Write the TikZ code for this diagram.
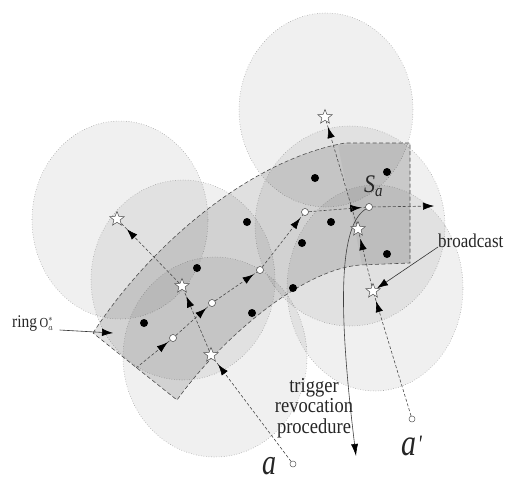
\documentclass[tikz,border=0pt]{standalone}
\usepackage{graphicx}
\usepackage{fontspec}
\setmainfont{Liberation Serif}
\usetikzlibrary{shapes.geometric,arrows.meta,decorations.markings}
\pgfdeclarelayer{bg}
\pgfsetlayers{bg,main}
\begin{document}
\begin{tikzpicture}[x=1pt,y=-1pt,
 zone/.style={draw=black!40, dotted, line width=0.55pt, fill=black, fill opacity=0.058},
 ringarea/.style={fill=black, fill opacity=0.12},
 cellarea/.style={fill=black, fill opacity=0.04},
 ringedge/.style={draw=black!70, dash pattern=on 4pt off 2.5pt, line width=0.6pt},
 hop/.style={draw=black!70, dash pattern=on 3pt off 2pt, line width=0.6pt},
 sensor/.style={circle, fill=black, inner sep=0pt, minimum size=8pt},
 relay/.style={circle, draw=black!75, fill=white, inner sep=0pt, minimum size=7pt, line width=0.5pt},
 agent/.style={star, star points=5, star point ratio=2.3, draw=black!70, fill=white, inner sep=0pt, minimum size=15pt, line width=0.5pt},
 origin/.style={circle, draw=black!65, fill=white, inner sep=0pt, minimum size=6pt, line width=0.5pt},
 tipat/.style={postaction={decorate, decoration={markings, mark=at position #1 with {\arrow{Latex[length=11pt,width=7.5pt,color=black]}}}}},
 pointer/.style={draw=black!80, line width=0.6pt, -{Latex[length=11pt,width=7.5pt,color=black]}},
 txt/.style={inner sep=0pt, text=black!85}
]
\useasboundingbox (0,0) rectangle (506,482);

% sensors (black)
\node[sensor] (b1) at (144,323) {};
\node[sensor] (b2) at (197,268) {};
\node[sensor] (b3) at (247,222) {};
\node[sensor] (b4) at (252,313) {};
\node[sensor] (b5) at (293,288) {};
\node[sensor] (b6) at (315,178) {};
\node[sensor] (b7) at (387,172) {};
\node[sensor] (b8) at (331,222) {};
\node[sensor] (b9) at (302,243) {};
\node[sensor] (b10) at (387,254) {};

% relays (white)
\node[relay] (w1) at (173,338) {};
\node[relay] (w2) at (212,303) {};
\node[relay] (w3) at (260,270) {};
\node[relay] (w4) at (305,212) {};
\node[relay] (w5) at (369,207) {};

% stars
\node[agent] (s1) at (117,219) {};
\node[agent] (s2) at (182,286) {};
\node[agent] (s3) at (211,355) {};
\node[agent] (s4) at (325,117) {};
\node[agent] (s5) at (358,229) {};
\node[agent] (s6) at (373,291) {};

% origins
\node[origin] (oa) at (293,464) {};
\node[origin] (ob) at (412,419) {};

\coordinate (r0) at (136,368);
\coordinate (rend) at (434,206);
\coordinate (ringtip) at (113,333);
\coordinate (trigend) at (356,456);

% labels
\node[txt, anchor=base west] (bc) at (438,247) {\scalebox{1}[1.15]{\fontsize{17}{19}\selectfont broadcast}};
\node[txt] (trg) at (314,409) {\scalebox{1}[1.15]{\fontsize{18.5}{17}\selectfont\begin{tabular}{@{}c@{}}trigger\\ revocation\\ procedure\end{tabular}}};
\node[txt, anchor=base west] (sa) at (364,192) {\scalebox{1}[1.15]{\fontsize{22}{22}\selectfont\itshape S\raisebox{-3.5pt}{\fontsize{15}{15}\selectfont a}}};
\node[txt, anchor=base west] (la2) at (401,455) {\scalebox{1}[1.25]{\fontsize{30}{30}\selectfont\itshape a\hspace{1.5pt}\raisebox{2pt}{\fontsize{20}{20}\selectfont\textquotesingle}}};
\node[txt, anchor=base west] (la1) at (262,474) {\scalebox{1}[1.3]{\fontsize{28}{28}\selectfont\itshape a}};
\node[txt, anchor=base west] (rg) at (12,327) {\scalebox{1}[1.15]{\fontsize{15.5}{15.5}\selectfont ring\hspace{2.5pt}{\fontsize{12}{12}\selectfont$\mathrm{O}^{*}_{a}$}}};

\begin{pgfonlayer}{bg}
 \fill[white] (0,0) rectangle (506,482);
 % coverage zones
 \path[zone] (326,110) ellipse [x radius=87pt, y radius=97pt];
 \path[zone] (120,220) ellipse [x radius=88pt, y radius=99pt];
 \path[zone] (183,280) ellipse [x radius=92pt, y radius=100pt];
 \path[zone] (215,357) ellipse [x radius=92pt, y radius=100pt];
 \path[zone] (350,226) ellipse [x radius=95pt, y radius=100pt];
 \path[zone] (375,288) ellipse [x radius=88pt, y radius=103pt];
 % ring
 \path[ringarea] (93,333) .. controls (150,245) and (250,160) .. (345,143) -- (410,143) -- (410,263) -- (360,265) .. controls (300,270) and (220,340) .. (177,400) -- cycle;
 \path[cellarea] (338,145) -- (410,143) -- (410,263) -- (362,265) -- cycle;
 \draw[ringedge] (93,333) .. controls (150,245) and (250,160) .. (345,143) -- (410,143) -- (410,263) -- (360,265) .. controls (300,270) and (220,340) .. (177,400) -- cycle;
 % route through relays
 \draw[hop, tipat=-3pt] (r0) -- (w1);
 \draw[hop, tipat=-4pt] (w1) -- (w2);
 \draw[hop, tipat=-4pt] (w2) -- (w3);
 \draw[hop, tipat=-4pt] (w3) -- (w4);
 \draw[hop, tipat=-4pt] (w4) -- (w5);
 \draw[hop, -{Latex[length=11pt,width=7.5pt,color=black]}] (w5) -- (rend);
 % path of a
 \draw[hop, tipat=-4pt] (oa) -- (s3);
 \draw[hop, tipat=-6pt] (s3) -- (s2);
 \draw[hop, tipat=-8pt] (s2) -- (s1);
 % path of a'
 \draw[hop, tipat=-6pt] (ob) -- (s6);
 \draw[hop, tipat=-6pt] (s6) -- (s5);
 \draw[hop, tipat=-6pt] (s5) -- (s4);
 % trigger curve
 \draw[draw=black!75, line width=0.6pt, -{Latex[length=12pt,width=7pt,color=black]}] (w5) .. controls (340,225) and (337,300) .. (trigend);
 % pointers
 \draw[pointer] (bc.base west) -- (s6);
 \draw[pointer] ([xshift=6pt,yshift=-3pt]rg.base east) -- (ringtip);
\end{pgfonlayer}
\end{tikzpicture}
\end{document}
